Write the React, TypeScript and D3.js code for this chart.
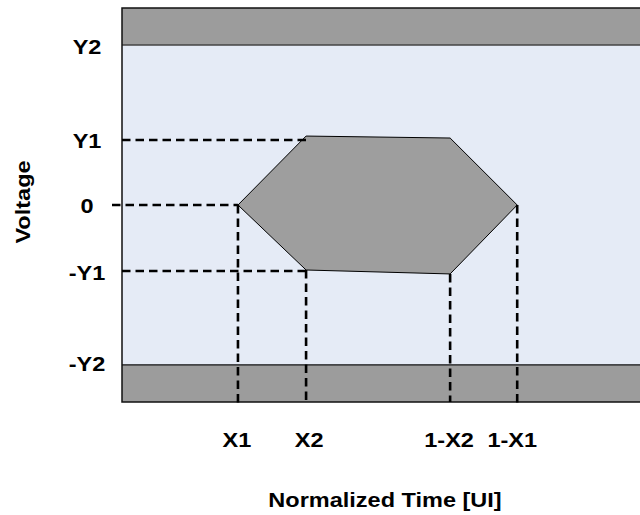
import React from "react";
import * as d3 from "d3";

// Eye-diagram mask template (normalized units)
const xTickLabels = ["X1", "X2", "1-X2", "1-X1"];
const xTickValues = [0.223, 0.354, 0.631, 0.76];
const yTickLabels = ["Y2", "Y1", "0", "-Y1", "-Y2"];
const yTickValues = [0.812, 0.33, 0, -0.335, -0.812];
const maskX = [0.223, 0.354, 0.631, 0.76, 0.631, 0.354];
const maskY = [0, 0.35, 0.34, 0, -0.35, -0.33];
const xTitle = "Normalized Time [UI]";
const yTitle = "Voltage";

const W = 640;
const H = 515;
const left = 122;
const top = 8;
const bottom = 402;
const right = 642;
const STRETCH = 1.12;
const FONT = "'Liberation Sans', Arial, sans-serif";

export default function App() {
  const x = d3.scaleLinear().domain([0, 1]).range([left, right]);
  const y = d3.scaleLinear().domain([-1, 1]).range([bottom, top]);

  const Y2 = yTickValues[0];
  const Y1 = yTickValues[1];
  const nY1 = yTickValues[3];
  const nY2 = yTickValues[4];

  const hexPts: [number, number][] = maskX.map((v, i) => [x(v), y(maskY[i])]);
  const hexPath = d3.line().curve(d3.curveLinearClosed)(hexPts) || "";

  const dash = { stroke: "#000", strokeWidth: 2.6, strokeDasharray: "8.5 5", fill: "none" };

  const label = (txt: string, cx: number, cy: number, key: string, rot = 0) => (
    <g key={key} transform={`translate(${cx},${cy}) rotate(${rot}) scale(${STRETCH},1)`}>
      <text
        x={0}
        y={0}
        textAnchor="middle"
        dominantBaseline="central"
        fontFamily={FONT}
        fontWeight="bold"
        fontSize={21}
        fill="#000"
      >
        {txt}
      </text>
    </g>
  );

  return (
    <svg
      width={W}
      height={H}
      style={{ position: "absolute", left: 0, top: 0, background: "#fff" }}
    >
      {/* plot background */}
      <rect x={left} y={top} width={right - left} height={bottom - top} fill="#e5ebf6" />
      {/* forbidden bands */}
      <rect x={left} y={top} width={right - left} height={y(Y2) - top} fill="#9c9c9c" />
      <rect x={left} y={y(nY2)} width={right - left} height={bottom - y(nY2)} fill="#9c9c9c" />
      <line x1={left} x2={right} y1={y(Y2)} y2={y(Y2)} stroke="#444" strokeWidth={1.5} />
      <line x1={left} x2={right} y1={y(nY2)} y2={y(nY2)} stroke="#111" strokeWidth={1.2} />
      {/* frame */}
      <path
        d={`M${right},${top}H${left}V${bottom}H${right}`}
        fill="none"
        stroke="#111"
        strokeWidth={1.5}
      />

      {/* mask hexagon */}
      <path d={hexPath} fill="#9e9e9e" stroke="#000" strokeWidth={1} />

      {/* horizontal dashed guides */}
      <line x1={left} x2={x(xTickValues[1])} y1={y(Y1)} y2={y(Y1)} {...dash} />
      <line x1={left - 10} x2={x(xTickValues[0])} y1={y(0)} y2={y(0)} {...dash} />
      <line x1={left} x2={x(xTickValues[1])} y1={y(nY1)} y2={y(nY1)} {...dash} />

      {/* vertical dashed guides */}
      <line x1={x(xTickValues[0])} x2={x(xTickValues[0])} y1={y(maskY[0])} y2={bottom + 2} {...dash} />
      <line x1={x(xTickValues[1])} x2={x(xTickValues[1])} y1={y(maskY[5])} y2={bottom} {...dash} />
      <line x1={x(xTickValues[2])} x2={x(xTickValues[2])} y1={y(maskY[4])} y2={bottom} {...dash} />
      <line x1={x(xTickValues[3])} x2={x(xTickValues[3])} y1={y(maskY[3])} y2={bottom + 2} {...dash} />

      {/* y labels */}
      {yTickLabels.map((t, i) => label(t, 87, y(yTickValues[i]) + (i === 0 ? 2 : i === 3 ? 2 : i === 4 ? -1 : 1), `y${i}`))}
      {/* x labels */}
      {xTickLabels.map((t, i) => label(t, x(xTickValues[i]) + (i === 1 ? 3 : i === 3 ? -5 : -1), 440, `x${i}`))}

      {label(xTitle, 385, 500, "xt")}
      {label(yTitle, 23, 202, "yt", -90)}
    </svg>
  );
}
